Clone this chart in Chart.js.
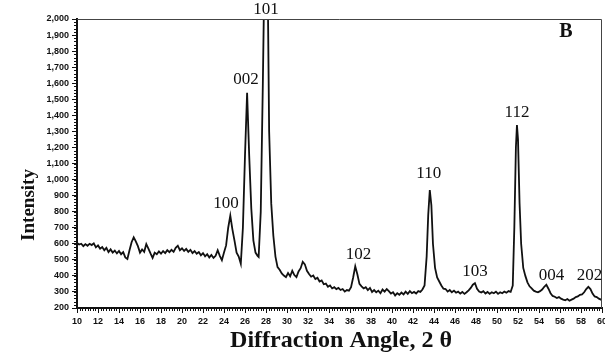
<!DOCTYPE html>
<html>
<head>
<meta charset="utf-8">
<script src="https://cdn.jsdelivr.net/npm/chart.js@4.4.1/dist/chart.umd.min.js"></script>
<style>
  html, body { margin: 0; padding: 0; background: #fff; }
  #wrap { position: relative; width: 605px; height: 354px; }
</style>
</head>
<body>
<div id="wrap"><canvas id="xrdChart" width="605" height="354"></canvas></div>
<script>
// XRD pattern (2 theta in degrees, counts)
const angles = [
  10.0, 10.2, 10.4, 10.6, 10.8, 11.0, 11.2, 11.4, 11.6, 11.8,
  12.0, 12.2, 12.4, 12.6, 12.8, 13.0, 13.2, 13.4, 13.6, 13.8,
  14.0, 14.2, 14.4, 14.6, 14.8, 15.0, 15.2, 15.4, 15.6, 15.8,
  16.0, 16.2, 16.4, 16.6, 16.8, 17.0, 17.2, 17.4, 17.6, 17.8,
  18.0, 18.2, 18.4, 18.6, 18.8, 19.0, 19.2, 19.4, 19.6, 19.8,
  20.0, 20.2, 20.4, 20.6, 20.8, 21.0, 21.2, 21.4, 21.6, 21.8,
  22.0, 22.2, 22.4, 22.6, 22.8, 23.0, 23.2, 23.4, 23.6, 23.8,
  24.0, 24.2, 24.4, 24.6, 24.8, 25.0, 25.2, 25.4, 25.6, 25.8,
  26.0, 26.2, 26.4, 26.6, 26.8, 27.0, 27.2, 27.3, 27.5, 27.7,
  27.85, 28.0, 28.15, 28.3, 28.5, 28.7, 28.9, 29.1, 29.3, 29.5,
  29.7, 29.9, 30.1, 30.3, 30.5, 30.7, 30.9, 31.1, 31.3, 31.5,
  31.7, 31.9, 32.1, 32.3, 32.5, 32.7, 32.9, 33.1, 33.3, 33.5,
  33.7, 33.9, 34.1, 34.3, 34.5, 34.7, 34.9, 35.1, 35.3, 35.5,
  35.7, 35.9, 36.1, 36.3, 36.5, 36.7, 36.9, 37.1, 37.3, 37.5,
  37.7, 37.9, 38.1, 38.3, 38.5, 38.7, 38.9, 39.1, 39.3, 39.5,
  39.7, 39.9, 40.1, 40.3, 40.5, 40.7, 40.9, 41.1, 41.3, 41.5,
  41.7, 41.9, 42.1, 42.3, 42.5, 42.7, 42.9, 43.1, 43.3, 43.45,
  43.6, 43.75, 43.9, 44.1, 44.3, 44.5, 44.7, 44.9, 45.1, 45.3,
  45.5, 45.7, 45.9, 46.1, 46.3, 46.5, 46.7, 46.9, 47.1, 47.3,
  47.5, 47.7, 47.9, 48.1, 48.3, 48.5, 48.7, 48.9, 49.1, 49.3,
  49.5, 49.7, 49.9, 50.1, 50.3, 50.5, 50.7, 50.9, 51.1, 51.3,
  51.5, 51.65, 51.8, 51.9, 52.0, 52.15, 52.3, 52.5, 52.7, 52.9,
  53.1, 53.3, 53.5, 53.7, 53.9, 54.1, 54.3, 54.5, 54.7, 54.9,
  55.1, 55.3, 55.5, 55.7, 55.9, 56.1, 56.3, 56.5, 56.7, 56.9,
  57.1, 57.3, 57.5, 57.7, 57.9, 58.1, 58.3, 58.5, 58.7, 58.9,
  59.1, 59.3, 59.5, 59.7, 59.9, 60.0
];
const intensity = [
  605, 595, 600, 585, 598, 588, 600, 592, 603, 578,
  590, 570, 580, 560, 575, 548, 565, 545, 558, 540,
  555, 535, 548, 515, 505, 560, 610, 640, 615, 585,
  545, 565, 550, 598, 570, 540, 512, 545, 535, 552,
  538, 555, 542, 560, 548, 562, 550, 575, 588, 560,
  572, 555, 568, 550, 562, 542, 555, 538, 548, 528,
  542, 522, 535, 515, 530, 512, 525, 560, 525, 498,
  545, 590, 700, 775, 690, 620, 545, 520, 475, 700,
  1150, 1540, 1150, 820, 620, 545, 525, 518, 800, 1600,
  2300, 2700, 2300, 1300, 850, 650, 520, 455, 438, 415,
  402, 392, 418, 398, 432, 405, 392, 428, 448, 488,
  472, 432, 412, 395, 402, 380, 388, 365, 372, 348,
  352, 332, 340, 322, 330, 318, 325, 312, 318, 302,
  312, 308, 330, 390, 460, 410, 350, 335, 322, 330,
  312, 325, 300, 312, 298, 308, 292, 315, 302, 318,
  305, 290, 298, 278, 292, 282, 296, 285, 302, 288,
  305, 292, 300, 290, 305, 300, 315, 340, 520, 780,
  935, 840, 600, 450, 390, 365, 340, 320, 318, 302,
  312, 298, 308, 295, 302, 290, 300, 288, 298, 310,
  325, 345, 355, 320, 302, 296, 305, 290, 300, 288,
  298, 292, 302, 288, 298, 292, 302, 295, 305, 300,
  340, 700, 1200, 1340, 1250, 850, 600, 450, 400, 360,
  335, 322, 308, 302, 298, 305, 315, 332, 345, 320,
  292, 275, 270, 262, 268, 258, 252, 248, 256, 245,
  252, 258, 268, 272, 282, 285, 298, 318, 332, 318,
  290, 272, 268, 258, 252, 248
];

// Miller index labels and where they sit (angle, intensity)
const peakLabels = ['100', '002', '101', '102', '110', '103', '112', '004', '202'];
const labelAngles = [24.2, 26.1, 28.0, 36.8, 43.5, 47.9, 51.9, 55.2, 58.8];
const labelIntensity = [848, 1620, 2062, 530, 1035, 425, 1415, 400, 400];

const xMin = 10, xMax = 60, xStep = 2;
const yMin = 200, yMax = 2000, yStep = 100;

const points = angles.map((a, i) => ({ x: a, y: intensity[i] }));

const decorPlugin = {
  id: 'decor',
  afterDraw(chart) {
    const ctx = chart.ctx;
    const area = chart.chartArea;
    const xs = chart.scales.x;
    const ys = chart.scales.y;
    ctx.save();

    // thin frame on top and right
    ctx.strokeStyle = '#444';
    ctx.lineWidth = 1;
    ctx.beginPath();
    ctx.moveTo(area.left, area.top + 0.5);
    ctx.lineTo(area.right - 0.5, area.top + 0.5);
    ctx.lineTo(area.right - 0.5, area.bottom);
    ctx.stroke();

    // minor ticks
    ctx.strokeStyle = '#111';
    ctx.beginPath();
    for (let v = xMin; v <= xMax + 1e-6; v += 0.25) {
      const px = Math.round(xs.getPixelForValue(v)) + 0.5;
      ctx.moveTo(px, area.bottom);
      ctx.lineTo(px, area.bottom + 3);
    }
    for (let v = yMin; v <= yMax + 1e-6; v += 20) {
      const py = Math.round(ys.getPixelForValue(v)) + 0.5;
      ctx.moveTo(area.left, py);
      ctx.lineTo(area.left - 3, py);
    }
    ctx.stroke();

    // peak labels
    ctx.fillStyle = '#111';
    ctx.font = '17px "Liberation Serif", "DejaVu Serif", serif';
    ctx.textAlign = 'center';
    ctx.textBaseline = 'middle';
    peakLabels.forEach((t, i) => {
      ctx.fillText(t, xs.getPixelForValue(labelAngles[i]), ys.getPixelForValue(labelIntensity[i]));
    });

    // panel letter
    ctx.font = 'bold 20px "Liberation Serif", serif';
    ctx.fillText('B', 566, 32);

    // axis titles
    ctx.font = 'bold 24px "Liberation Serif", serif';
    ctx.fillText('Diffraction Angle, 2 \u03b8', 341, 341);
    ctx.translate(29, 205);
    ctx.rotate(-Math.PI / 2);
    ctx.font = 'bold 19px "Liberation Serif", serif';
    ctx.fillText('Intensity', 0, 0);
    ctx.restore();
  }
};

const ctx = document.getElementById('xrdChart').getContext('2d');
const xrdChart = new Chart(ctx, {
  type: 'line',
  data: {
    datasets: [{
      data: points,
      borderColor: '#111',
      borderWidth: 1.8,
      pointRadius: 0,
      tension: 0,
      fill: false
    }]
  },
  options: {
    responsive: false,
    animation: false,
    layout: { padding: { left: 0, top: 19, right: 3, bottom: 0 } },
    plugins: { legend: { display: false }, tooltip: { enabled: false } },
    scales: {
      x: {
        type: 'linear',
        min: xMin,
        max: xMax,
        afterFit(scale) {
          scale.height = 46;
          scale.paddingLeft = 0;
          scale.paddingRight = 0;
        },
        border: { color: '#111', width: 2 },
        grid: { drawOnChartArea: false, tickLength: 5, color: '#111' },
        ticks: {
          stepSize: xStep,
          padding: 3,
          color: '#111',
          maxRotation: 0,
          font: { family: '"Liberation Sans", Arial, sans-serif', size: 9, weight: 'bold' }
        }
      },
      y: {
        min: yMin,
        max: yMax,
        afterFit(scale) { scale.width = 77; },
        border: { color: '#111', width: 2 },
        grid: { drawOnChartArea: false, tickLength: 5, color: '#111' },
        ticks: {
          stepSize: yStep,
          padding: 3,
          color: '#111',
          callback: v => v.toLocaleString('en-US'),
          font: { family: '"Liberation Sans", Arial, sans-serif', size: 9, weight: 'bold' }
        }
      }
    }
  },
  plugins: [decorPlugin]
});
</script>
</body>
</html>
